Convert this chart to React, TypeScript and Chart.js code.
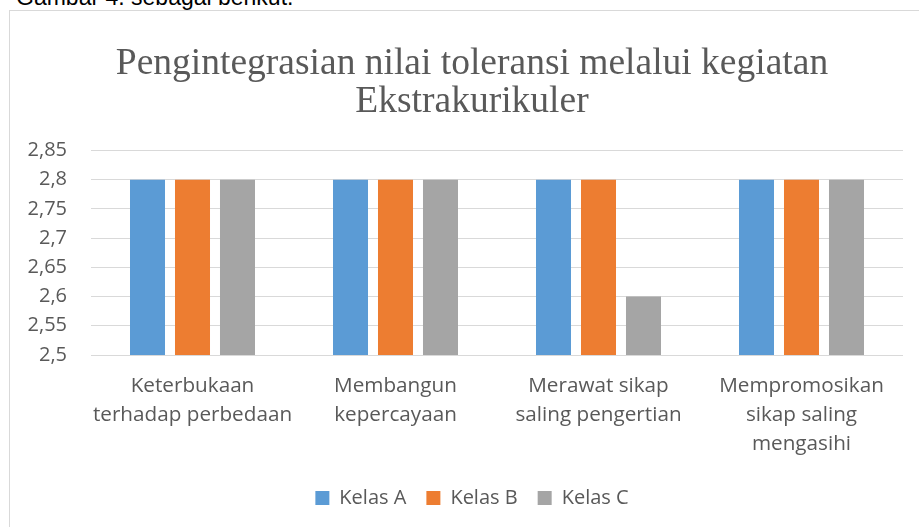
import React, { useEffect, useRef } from "react";
import { Chart, registerables } from "chart.js";

Chart.register(...registerables);

const categories: string[][] = [
  ["Keterbukaan", "terhadap perbedaan"],
  ["Membangun", "kepercayaan"],
  ["Merawat sikap", "saling pengertian"],
  ["Mempromosikan", "sikap saling", "mengasihi"],
];
const seriesNames = ["Kelas A", "Kelas B", "Kelas C"];
const kelasA = [2.8, 2.8, 2.8, 2.8];
const kelasB = [2.8, 2.8, 2.8, 2.8];
const kelasC = [2.8, 2.8, 2.6, 2.8];
const seriesColors = ["#5B9BD5", "#ED7D31", "#A5A5A5"];
const titleLines = ["Pengintegrasian nilai toleransi melalui kegiatan", "Ekstrakurikuler"];
const yMin = 2.5;
const yMax = 2.85;
const yStep = 0.05;

export default function App() {
  const ref = useRef<HTMLCanvasElement>(null);
  useEffect(() => {
    if (!ref.current) return;
    const textColor = "#595959";
    const sans = "'Open Sans', sans-serif";
    const chart = new Chart(ref.current, {
      type: "bar",
      data: {
        labels: categories,
        datasets: [kelasA, kelasB, kelasC].map((d, i) => ({
          label: seriesNames[i],
          data: d,
          backgroundColor: seriesColors[i],
          borderWidth: 0,
          categoryPercentage: 0.665,
          barPercentage: 0.778,
          yAxisID: "y",
        })),
      },
      options: {
        animation: false,
        responsive: false,
        devicePixelRatio: 1,
        layout: { padding: 0 },
        plugins: {
          tooltip: { enabled: false },
          title: {
            display: true,
            text: titleLines,
            color: textColor,
            font: { family: "'Liberation Serif', serif", size: 37.5, weight: "normal", lineHeight: 1.02 },
            padding: { top: 34, bottom: 29 },
          },
          legend: {
            position: "bottom",
            labels: {
              color: textColor,
              font: { family: sans, size: 20 },
              boxWidth: 14,
              boxHeight: 14,
              padding: 20,
            },
          },
        },
        scales: {
          x: {
            grid: { display: false, drawTicks: false },
            border: { display: false },
            ticks: {
              color: textColor,
              font: { family: sans, size: 20.7, lineHeight: 1.4 },
              padding: 17,
              maxRotation: 0,
              autoSkip: false,
            },
            afterFit: (s: any) => {
              s.height = 113;
            },
          },
          y: {
            min: yMin,
            max: yMax,
            grid: { color: "#D9D9D9", lineWidth: 1, drawTicks: false },
            border: { display: false },
            ticks: {
              stepSize: yStep,
              color: textColor,
              font: { family: sans, size: 20 },
              padding: 24,
              callback: (v: any) => String(Number(Number(v).toFixed(2))).replace(".", ","),
            },
            afterFit: (s: any) => {
              s.width = 81;
            },
          },
          yRight: {
            position: "right",
            min: yMin,
            max: yMax,
            grid: { display: false, drawTicks: false },
            border: { display: false },
            ticks: { display: false },
            afterFit: (s: any) => {
              s.width = 31;
            },
          },
        },
      },
    });
    return () => chart.destroy();
  }, []);

  return (
    <div style={{ position: "fixed", left: 0, top: 0, width: 919, height: 527, overflow: "hidden", background: "#fff" }}>
      <div
        style={{
          position: "absolute",
          left: 16,
          top: -14,
          fontFamily: "'Liberation Sans', Arial, sans-serif",
          fontSize: 23,
          lineHeight: "23px",
          color: "#000",
          whiteSpace: "nowrap",
        }}
      >
        Gambar 4. sebagai berikut.
      </div>
      <div
        style={{
          position: "absolute",
          left: 9,
          top: 10,
          width: 960,
          height: 560,
          border: "1px solid #D9D9D9",
          boxSizing: "border-box",
        }}
      >
        <canvas ref={ref} width={924} height={507} style={{ display: "block" }} />
      </div>
    </div>
  );
}
